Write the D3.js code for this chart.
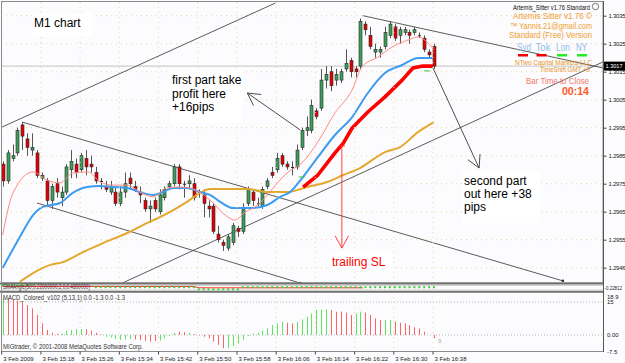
<!DOCTYPE html>
<html>
<head>
<meta charset="utf-8">
<script src="https://cdn.jsdelivr.net/npm/d3@7"></script>
<style>
  body { margin: 0; background: #fff; }
  svg { display: block; }
  text { font-family: "Liberation Sans", Arial, sans-serif; }
</style>
</head>
<body>
<svg id="chart"></svg>
<script>
// ---- data (EURUSD M1, 3 Feb 2009 15:10 - 16:38) ----
const opens = [1.2982,1.2976,1.2984,1.2986,1.2996,1.2991,1.2987,1.2986,1.2977,1.2976,
  1.2969,1.2975,1.2970,1.2972,1.2980,1.2982,1.2980,1.2984,1.2982,1.2979,
  1.2976,1.2974,1.2972,1.2972,1.2968,1.2972,1.2977,1.2974,1.2972,1.2969,
  1.2966,1.2969,1.2965,1.2970,1.2974,1.2975,1.2981,1.2975,1.2975,1.2975,
  1.2972,1.2971,1.2967,1.2967,1.2957,1.2954,1.2952,1.2954,1.2959,1.2958,
  1.2968,1.2972,1.2968,1.2967,1.2974,1.2979,1.2980,1.2985,1.2982,1.2981,
  1.2981,1.2988,1.2994,1.2994,1.3001,1.3002,1.3012,1.3015,1.3012,1.3012,
  1.3016,1.3019,1.3016,1.3017,1.3032,1.3028,1.3022,1.3022,1.3024,1.3028,
  1.3031,1.3028,1.3029,1.3029,1.3029,1.3028,1.3027,1.3022,1.3024]
const highs = [1.2983,1.2987,1.2989,1.2995,1.2997,1.2993,1.2993,1.2987,1.2979,1.2977,
  1.2975,1.2977,1.2974,1.2982,1.2987,1.2984,1.2986,1.2987,1.2985,1.2981,
  1.2977,1.2976,1.2976,1.2974,1.2974,1.2979,1.2979,1.2976,1.2974,1.2970,
  1.2969,1.2970,1.2973,1.2974,1.2976,1.2982,1.2982,1.2976,1.2978,1.2977,
  1.2973,1.2973,1.2969,1.2968,1.2960,1.2955,1.2957,1.2961,1.2960,1.2968,
  1.2974,1.2973,1.2970,1.2974,1.2977,1.2981,1.2986,1.2986,1.2983,1.2983,
  1.2989,1.2995,1.2999,1.3005,1.3002,1.3016,1.3017,1.3017,1.3016,1.3016,
  1.3023,1.3020,1.3017,1.3034,1.3033,1.3031,1.3025,1.3024,1.3031,1.3033,
  1.3032,1.3031,1.3031,1.3030,1.3031,1.3029,1.3028,1.3023,1.3025]
const lows = [1.2974,1.2975,1.2983,1.2985,1.2987,1.2985,1.2985,1.2977,1.2976,1.2967,
  1.2966,1.2970,1.2967,1.2971,1.2977,1.2977,1.2979,1.2978,1.2979,1.2975,
  1.2973,1.2972,1.2971,1.2967,1.2967,1.2970,1.2973,1.2972,1.2968,1.2965,
  1.2961,1.2965,1.2964,1.2969,1.2973,1.2974,1.2973,1.2970,1.2973,1.2969,
  1.2970,1.2963,1.2963,1.2957,1.2954,1.2951,1.2951,1.2953,1.2956,1.2957,
  1.2967,1.2967,1.2967,1.2966,1.2973,1.2977,1.2979,1.2981,1.2980,1.2978,
  1.2980,1.2987,1.2992,1.2993,1.2998,1.3001,1.3009,1.3008,1.3010,1.3011,
  1.3015,1.3013,1.3013,1.3016,1.3028,1.3023,1.3020,1.3020,1.3023,1.3027,
  1.3026,1.3025,1.3028,1.3025,1.3028,1.3027,1.3022,1.3020,1.3016]
const closes = [1.2976,1.2986,1.2985,1.2994,1.2992,1.2988,1.2988,1.2978,1.2978,1.2969,
  1.2974,1.2972,1.2972,1.2981,1.2983,1.2979,1.2985,1.2981,1.2981,1.2976,
  1.2976,1.2973,1.2974,1.2968,1.2972,1.2975,1.2975,1.2973,1.2971,1.2966,
  1.2967,1.2966,1.2971,1.2973,1.2975,1.2981,1.2975,1.2975,1.2976,1.2970,
  1.2972,1.2968,1.2966,1.2958,1.2955,1.2953,1.2956,1.2960,1.2958,1.2966,
  1.2973,1.2969,1.2968,1.2973,1.2976,1.2978,1.2984,1.2982,1.2981,1.2981,
  1.2987,1.2994,1.2995,1.3003,1.2999,1.3012,1.3014,1.3010,1.3014,1.3015,
  1.3018,1.3015,1.3015,1.3033,1.3030,1.3024,1.3023,1.3023,1.3029,1.3032,
  1.3027,1.3030,1.3030,1.3028,1.3030,1.3028,1.3023,1.3021,1.3017]

const lastPrice = 1.3017
const priceTicks = [1.3035, 1.3025, 1.3015, 1.3005, 1.2995, 1.2985, 1.2975, 1.2965, 1.2955, 1.2945]
const priceTickLabels = ["1.3035","1.3025","1.3015","1.3005","1.2995","1.2985","1.2975","1.2965","1.2955","1.2946"]
const timeTickBars = [0, 8, 16, 24, 32, 40, 48, 56, 64, 72, 80, 88]
const timeLabels = ["3 Feb 2009","3 Feb 15:18","3 Feb 15:26","3 Feb 15:34","3 Feb 15:42","3 Feb 15:50",
  "3 Feb 15:58","3 Feb 16:06","3 Feb 16:14","3 Feb 16:22","3 Feb 16:30","3 Feb 16:38"]

// moving averages, sampled as [bar, price]
const maFast = [[0,1.29567],[2.1,1.29717],[6.2,1.29792],[9,1.29763],[11.7,1.29753],[14.3,1.29788],[17.4,1.29792],
  [19.9,1.29756],[22.5,1.29745],[25.4,1.29745],[28,1.2972],[30.7,1.29703],[33.5,1.29735],[36.2,1.29738],
  [39.3,1.29728],[42.7,1.29685],[45.4,1.29638],[47.4,1.2962],[49.5,1.29649],[51.5,1.29667],[53.5,1.29699],
  [56.2,1.29756],[58,1.29788],[61.1,1.29825],[64.3,1.29899],[67.8,1.30003],[71.3,1.30085],[73.3,1.30167],
  [76.6,1.30203],[79.4,1.30238],[82.7,1.30263],[84.8,1.30274],[86.8,1.30252],[88,1.30228]]
const maMid = [[0,1.29449],[3.5,1.2956],[6.2,1.29638],[8.2,1.29667],[11.7,1.29681],[14.3,1.29717],[17.2,1.29738],
  [19.9,1.29742],[22.5,1.29738],[25.4,1.29735],[28,1.2972],[30.7,1.2971],[32.7,1.2972],[34.8,1.29735],
  [37.6,1.29735],[40.3,1.2972],[42.3,1.2971],[44.4,1.29685],[47,1.29663],[50.5,1.29663],[54,1.29674],
  [56.6,1.29703],[58.6,1.2972],[61.1,1.2977],[64.3,1.29845],[67.8,1.29924],[71.3,1.29988],[74.5,1.30074],
  [78,1.30145],[81.5,1.30174],[84.8,1.30199],[87.8,1.30199]]
const maSlow = [[3.5,1.29400],[6.2,1.29431],[9.7,1.2946],[12.3,1.2947],[16.4,1.29506],[20.5,1.29538],[25.4,1.29574],
  [29.5,1.2961],[32.1,1.29631],[34.8,1.29656],[37.6,1.29685],[40.3,1.29717],[42.3,1.29731],[44.4,1.29731],
  [49.9,1.29731],[54,1.2972],[58,1.2972],[62.1,1.29738],[66.2,1.29756],[69.5,1.29781],[72.9,1.29806],
  [78,1.29863],[81.1,1.29881],[84.8,1.29935],[88,1.2997]]
const maTrail = [[61.3,1.29738],[64.3,1.29781],[67.8,1.2986],[69.5,1.29895],[71.3,1.29949],[74.5,1.30006],
  [78,1.3006],[81.5,1.3012],[83.7,1.30163],[85.7,1.3017],[87.8,1.3017]]

// hand drawn objects: trend lines and arrows, anchored as [bar, price]
const trendLines = [
  [[-0.55,1.29949],[55.6,1.30395]],
  [[4,1.2997],[114.3,1.29403]],
  [[7,1.29681],[60.7,1.29395]],
  [[24.4,1.29395],[122.5,1.30185]],
  [[73.5,1.3035],[122.5,1.30163]]
]
const arrows = [
  {from: [60.7,1.29942], to: [49.9,1.30074], color: "#3a3a3a"},
  {from: [87.8,1.30163], to: [97.2,1.29806], color: "#3a3a3a"},
  {from: [69.2,1.29885], to: [69.2,1.29520], color: "#ff3030"}
]
const greenMarks = [[61,1.29781],[86.6,1.3016]]

// MACD_Colored histogram
const macdValues = [16.7,16.7,16.2,15.6,15.1,13.6,12.1,9.1,5.3,2.3,
  1.0,0.5,0.7,1.8,2.3,2.6,2.7,2.6,2.0,1.0,
  0.2,-0.8,-1.2,-1.8,-2.3,-2.0,-1.8,-2.0,-2.3,-2.6,
  -3.0,-2.7,-2.5,-1.5,-0.5,1.0,1.5,1.3,1.0,0.4,
  -0.2,-0.8,-1.5,-3.0,-4.5,-6.0,-6.0,-5.0,-3.8,-2.3,
  -0.5,0.7,1.0,2.0,3.0,4.5,5.3,6.0,5.6,5.3,
  6.0,7.1,8.3,9.8,11.4,11.4,11.7,11.4,10.6,10.6,
  10.2,9.1,9.8,10.6,10.2,9.1,7.6,6.8,6.8,6.8,
  6.1,5.6,5.3,4.5,3.5,3.0,1.5,0.0,-1.5]
const macdColors = "grrrrrrrrrrrgggggrrrrggggggrrrrrggggrrgrrrrrrrggggggggggggrrgggggggrrrrrggrrrrggrrrrrrrrr"

// SMAAngle strip: line level and dot runs [fromBar, toBar, level]
const angleLine = [[0,0.35],[39,0.35],[40,-0.1],[73.5,-0.1]]
const angleDotRuns = [[0,6,0.8],[19,39,0.1],[40,48,-0.6],[49,88,0.1]]

// ---- drawing ----
const W = 625, H = 363
const svg = d3.select("#chart").attr("width", W).attr("height", H)

const x = d3.scaleLinear().domain([0, 88]).range([2.7, 434])
const y = d3.scaleLinear().domain([1.2945, 1.3035]).range([267.7, 15.7])
const ym = d3.scaleLinear().domain([-7.5, 18.9]).range([351.5, 293.4])
const ya = d3.scaleLinear().domain([-1, 1]).range([290.5, 284.5])

const AX = 603   // left edge of price scale
svg.append("rect").attr("width", W).attr("height", H).attr("fill", "#fcfbfd")

svg.append("clipPath").attr("id", "mainClip")
  .append("rect").attr("x", 1.5).attr("y", 2).attr("width", AX - 1.5).attr("height", 281)

const main = svg.append("g").attr("clip-path", "url(#mainClip)")

// dotted grid
const gridColor = "#efd3a8"
main.selectAll(".hgrid").data(priceTicks).join("line")
  .attr("x1", 1).attr("x2", AX).attr("y1", d => y(d)).attr("y2", d => y(d))
  .attr("stroke", gridColor).attr("stroke-dasharray", "1,4")
svg.selectAll(".vgrid").data(timeTickBars).join("line")
  .attr("x1", d => x(d) - 1).attr("x2", d => x(d) - 1).attr("y1", 2).attr("y2", 351)
  .attr("stroke", gridColor).attr("stroke-dasharray", "1,4")
svg.selectAll(".mgrid").data([15, 0]).join("line")
  .attr("x1", 1).attr("x2", AX).attr("y1", d => ym(d)).attr("y2", d => ym(d))
  .attr("stroke", "#b8b8b8").attr("stroke-dasharray", "1,2")

// bid line
main.append("line").attr("x1", 1).attr("x2", AX)
  .attr("y1", y(lastPrice)).attr("y2", y(lastPrice)).attr("stroke", "#c4c4c4")

// trend lines
main.selectAll(".trend").data(trendLines).join("line")
  .attr("x1", d => x(d[0][0])).attr("y1", d => y(d[0][1]))
  .attr("x2", d => x(d[1][0])).attr("y2", d => y(d[1][1]))
  .attr("stroke", "#4a4a4a").attr("stroke-width", 0.9)
main.selectAll(".trendEnd").data(trendLines.slice(1, 3)).join("circle")
  .attr("cx", d => x(d[1][0])).attr("cy", d => y(d[1][1])).attr("r", 1.3).attr("fill", "#333")

// candles
const bars = d3.range(opens.length)
const bw = 3
main.selectAll(".wick").data(bars).join("line")
  .attr("x1", i => Math.round(x(i)) + 0.5).attr("x2", i => Math.round(x(i)) + 0.5)
  .attr("y1", i => y(highs[i])).attr("y2", i => y(lows[i]))
  .attr("stroke", "#555").attr("stroke-width", 1)
main.selectAll(".body").data(bars).join("rect")
  .attr("x", i => Math.round(x(i)) - 1)
  .attr("y", i => y(Math.max(opens[i], closes[i])))
  .attr("width", bw)
  .attr("height", i => Math.max(1, Math.abs(y(opens[i]) - y(closes[i]))))
  .attr("fill", i => closes[i] > opens[i] ? "#3c9f5c" : closes[i] < opens[i] ? "#e50000" : "#222")
  .attr("stroke", i => closes[i] === opens[i] ? "none" : "#2a2a2a")
  .attr("stroke-width", 0.6)

// moving averages
const maLine = d3.line().x(d => x(d[0])).y(d => y(d[1])).curve(d3.curveMonotoneX)
main.append("path").datum(maSlow).attr("d", maLine)
  .attr("fill", "none").attr("stroke", "#e3a92e").attr("stroke-width", 2)
main.append("path").datum(maMid).attr("d", maLine)
  .attr("fill", "none").attr("stroke", "#3b9cf0").attr("stroke-width", 2)
main.append("path").datum(maFast).attr("d", maLine)
  .attr("fill", "none").attr("stroke", "#ff8b84").attr("stroke-width", 1)
main.append("path").datum(maTrail).attr("d", d3.line().x(d => x(d[0])).y(d => y(d[1])))
  .attr("fill", "none").attr("stroke", "#f00").attr("stroke-width", 3.6)
  .attr("stroke-linejoin", "round")

main.selectAll(".gmark").data(greenMarks).join("line")
  .attr("x1", d => x(d[0]) - 3).attr("x2", d => x(d[0]) + 3)
  .attr("y1", d => y(d[1]) + 2).attr("y2", d => y(d[1]) + 2)
  .attr("stroke", "#3cbf3c").attr("stroke-width", 1)

// arrows with open heads
arrows.forEach(a => {
  const x1 = x(a.from[0]), y1 = y(a.from[1]), x2 = x(a.to[0]), y2 = y(a.to[1])
  const back = Math.atan2(y1 - y2, x1 - x2), len = 14, spread = 0.5
  main.append("line").attr("x1", x1).attr("y1", y1).attr("x2", x2).attr("y2", y2)
    .attr("stroke", a.color).attr("stroke-width", 0.9)
  ;[-spread, spread].forEach(s => {
    main.append("line").attr("x1", x2).attr("y1", y2)
      .attr("x2", x2 + len * Math.cos(back + s)).attr("y2", y2 + len * Math.sin(back + s))
      .attr("stroke", a.color).attr("stroke-width", 0.9)
  })
})
main.append("line").attr("x1", x(arrows[2].from[0]) - 3).attr("x2", x(arrows[2].from[0]) + 3)
  .attr("y1", y(arrows[2].from[1])).attr("y2", y(arrows[2].from[1]))
  .attr("stroke", "#ff3030")

// text objects with white backgrounds
function note(lines, bx, by, bw2, bh, tx, ty, step, color) {
  svg.append("rect").attr("x", bx).attr("y", by).attr("width", bw2).attr("height", bh).attr("fill", "#fff")
  svg.append("text").attr("x", tx).attr("y", ty).attr("fill", color).attr("font-size", 12)
    .selectAll("tspan").data(lines).join("tspan")
    .attr("x", tx).attr("dy", (d, i) => i ? step : 0).text(d => d)
}
note(["M1 chart"], 33, 13, 59, 24, 34, 27, 0, "#000")
note(["first part take", "profit here", "+16pips"], 171, 71, 72, 52, 172, 84, 13.5, "#000")
note(["second part", "out here +38", "pips"], 462, 171, 78, 52, 464, 185, 13.2, "#000")
note(["trailing SL"], 330, 252, 63, 19, 332, 266, 0, "#f00")

// info block top right
function label(t, lx, ly, size, color, len, extra) {
  const el = svg.append("text").attr("x", lx).attr("y", ly).attr("font-size", size).attr("fill", color).text(t)
  if (len) el.attr("textLength", len).attr("lengthAdjust", "spacingAndGlyphs")
  if (extra) extra(el)
  return el
}
label("Artemis_Sitter v1.76 Standard", 513, 9.5, 7, "#111", 77)
svg.append("circle").attr("cx", 595.5).attr("cy", 6.5).attr("r", 3.2).attr("fill", "none").attr("stroke", "#777")
label("Artemis Sitter v1.76 \u00a9", 513, 19, 8.5, "#f0a030", 79)
label("\u2122 Yannis.21@gmail.com", 510, 28.5, 8.5, "#f0a030", 82)
label("Standard (Free) Version", 509, 38, 8.5, "#f0a030", 83)
const sessions = ["Syd", "Tok", "Lon", "NY"]
const sessionX = [517, 535.5, 556, 576]
const sessionW = [14, 15, 14, 11]
const sessionColors = ["#f00000", "#f00000", "#22ee22", "#22ee22"]
svg.selectAll(".sess").data(sessions).join("text")
  .attr("x", (d, i) => sessionX[i]).attr("y", 51).attr("font-size", 10)
  .attr("textLength", (d, i) => sessionW[i]).attr("lengthAdjust", "spacingAndGlyphs")
  .attr("font-family", "Liberation Serif, serif").attr("fill", "#92c0e8").text(d => d)
svg.selectAll(".sessBar").data(sessions).join("rect")
  .attr("x", (d, i) => sessionX[i] + 1).attr("y", 54).attr("width", 10).attr("height", 2.5)
  .attr("fill", (d, i) => sessionColors[i])
label("NTwo Capital Markets LLC", 515, 65, 6.5, "#e8961e", 77)
label("TimeShift GMT +0", 540, 72, 6.5, "#e8961e", 50)
label("Bar Time to Close", 526, 84, 9, "#f07a6a", 63)
label("00:14", 562, 95, 11, "#ff5a1e", 27, el => el.attr("font-weight", "bold"))

// panel frames
const frame = "#8c8c8c"
svg.append("rect").attr("x", 1.5).attr("y", 1.5).attr("width", AX - 1.5).attr("height", 281.5)
  .attr("fill", "none").attr("stroke", frame)
svg.append("line").attr("x1", 0).attr("x2", AX).attr("y1", 283.5).attr("y2", 283.5).attr("stroke", "#707070").attr("stroke-width", 2)
svg.append("line").attr("x1", 0).attr("x2", AX).attr("y1", 291.8).attr("y2", 291.8).attr("stroke", "#707070").attr("stroke-width", 2)
svg.append("line").attr("x1", 1).attr("x2", AX).attr("y1", 285.5).attr("y2", 285.5).attr("stroke", "#d0d0d0")
svg.append("line").attr("x1", 1).attr("x2", AX).attr("y1", 290).attr("y2", 290).attr("stroke", "#d0d0d0")
svg.append("line").attr("x1", 1.5).attr("x2", 1.5).attr("y1", 1).attr("y2", 351.5).attr("stroke", frame)
svg.append("line").attr("x1", 1).attr("x2", AX).attr("y1", 351.5).attr("y2", 351.5).attr("stroke", frame)
svg.append("line").attr("x1", AX + 0.5).attr("x2", AX + 0.5).attr("y1", 1).attr("y2", 352).attr("stroke", "#555")

// SMAAngle strip
svg.append("path").datum(angleLine)
  .attr("d", d3.line().x(d => x(d[0])).y(d => ya(d[1])))
  .attr("fill", "none").attr("stroke", "#ff2a2a").attr("stroke-width", 1)
const dots = angleDotRuns.flatMap(r => d3.range(r[0], r[1] + 1).map(b => [b, r[2]]))
svg.selectAll(".adot").data(dots).join("rect")
  .attr("x", d => x(d[0]) - 1).attr("y", d => ya(d[1]) - 1).attr("width", 2).attr("height", 2)
  .attr("fill", "#3ccf3c")
label("SMAAngle(50,0.22000000,2,0,0.4800000)", 3, 289, 6.5, "#333", 87)
label("-0.22812", 604.5, 289.5, 5.5, "#222", 17.5)

// MACD histogram
svg.selectAll(".macd").data(macdValues).join("line")
  .attr("x1", (d, i) => Math.round(x(i)) + 0.5).attr("x2", (d, i) => Math.round(x(i)) + 0.5)
  .attr("y1", ym(0)).attr("y2", d => ym(d))
  .attr("stroke", (d, i) => macdColors[i] === "g" ? "#5ee65e" : "#ff6464").attr("stroke-width", 1)
label("MACD_Colored_v102 (5,13,1) 0.0 -1.3 0.0 -1.3", 3, 300, 6.5, "#333", 122)
label("MIGtrader, \u00a9 2001-2008 MetaQuotes Software Corp.", 3, 349, 6.5, "#333", 140)
label("9", 438, 343, 6, "#aaa")
const macdTicks = [18.9, 15, 0, -7.5]
const macdTickLabels = ["18.9", "15", "0.00", "-7.5"]
svg.selectAll(".mtick").data(macdTicks).join("text")
  .attr("x", 607).attr("y", (d, i) => i === 0 ? 298.5 : ym(d) + 2.2)
  .attr("font-size", 6).attr("fill", "#222").text((d, i) => macdTickLabels[i])

// price axis
const yAxis = svg.append("g").attr("transform", `translate(${AX + 0.5},0)`)
  .call(d3.axisRight(y).tickValues(priceTicks).tickFormat((d, i) => priceTickLabels[i]).tickSize(3).tickPadding(2))
yAxis.select(".domain").remove()
yAxis.selectAll("line").attr("stroke", "#444")
yAxis.selectAll("text").attr("font-size", 6).attr("fill", "#222").attr("letter-spacing", -0.25)
  .attr("font-family", "Liberation Sans, Arial, sans-serif")

// current price tag
svg.append("rect").attr("x", AX + 1).attr("y", y(lastPrice) - 4.5).attr("width", 21).attr("height", 9).attr("fill", "#000")
label(lastPrice.toFixed(4), AX + 2.5, y(lastPrice) + 2.2, 6, "#fff", 17)

// time axis
const xAxis = svg.append("g").attr("transform", "translate(0,351.5)")
  .call(d3.axisBottom(x).tickValues(timeTickBars).tickFormat((d, i) => timeLabels[i]).tickSize(3).tickPadding(2))
xAxis.select(".domain").remove()
xAxis.selectAll(".tick").attr("transform", d => `translate(${x(d) - 1},0)`)
xAxis.selectAll("line").attr("stroke", "#444")
xAxis.selectAll("text").attr("font-size", 6).attr("fill", "#222").attr("text-anchor", "start")
  .attr("x", 1.5).attr("font-family", "Liberation Sans, Arial, sans-serif")
</script>
</body>
</html>
